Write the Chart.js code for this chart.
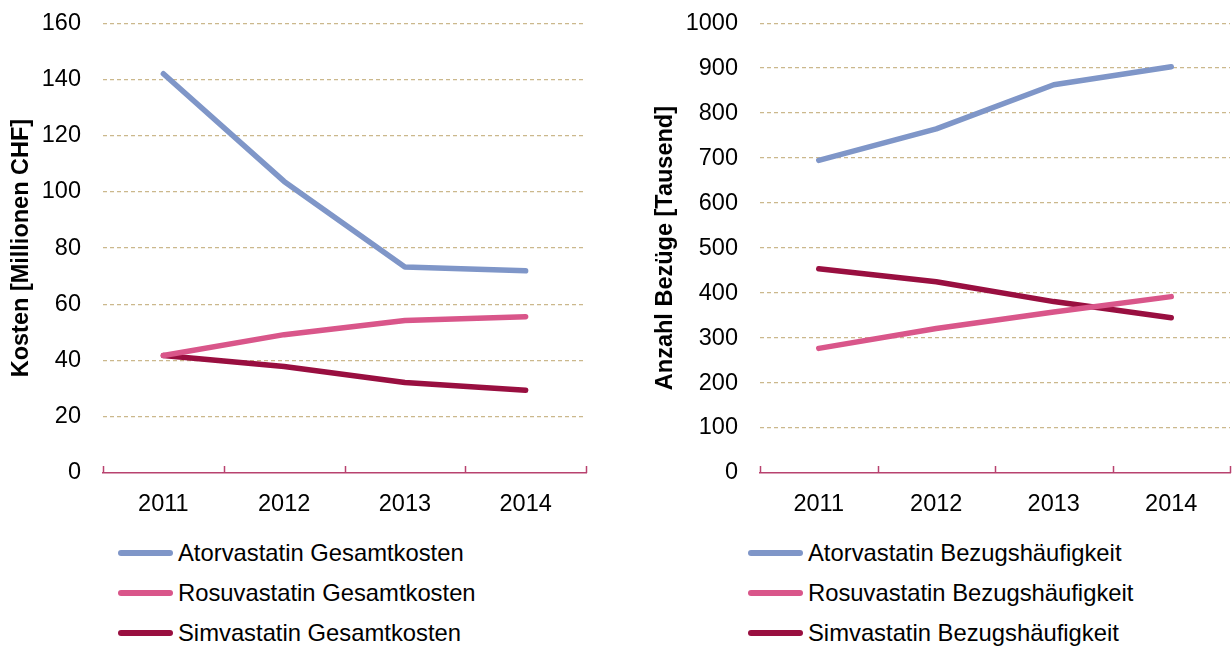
<!DOCTYPE html>
<html>
<head>
<meta charset="utf-8">
<script src="https://cdn.jsdelivr.net/npm/chart.js@4"></script>
<style>
  body { margin:0; background:#fff; font-family:'Liberation Sans', Arial, sans-serif; }
  #wrap { position:relative; width:1232px; height:652px; overflow:hidden; }
  .cv { position:absolute; top:-13px; }
  .legend { position:absolute; top:0; }
  .legend .it { position:absolute; white-space:nowrap; font-size:23.8px; color:#000; line-height:28px; }
  .legend .sw { position:absolute; height:6px; border-radius:3px; }
</style>
</head>
<body>
<div id="wrap">
  <div class="cv" style="left:0;width:600px;height:533px"><canvas id="ch-kosten"></canvas></div>
  <div class="cv" style="left:620px;width:612px;height:533px"><canvas id="ch-bezug"></canvas></div>
  <div class="legend" id="lg-kosten"></div>
  <div class="legend" id="lg-bezug"></div>
</div>
<script>
// Daten
const years = ['2011', '2012', '2013', '2014'];
const atorKosten  = [142, 103.7, 73.3, 71.9];
const rosuKosten  = [41.8, 49.2, 54.2, 55.6];
const simvaKosten = [41.8, 37.9, 32.2, 29.4];
const atorBezug  = [695, 765, 863, 903];
const rosuBezug  = [277, 321, 358, 392];
const simvaBezug = [454, 425, 381, 345];
const kostenLabels = ['Atorvastatin Gesamtkosten', 'Rosuvastatin Gesamtkosten', 'Simvastatin Gesamtkosten'];
const bezugLabels  = ['Atorvastatin Bezugshäufigkeit', 'Rosuvastatin Bezugshäufigkeit', 'Simvastatin Bezugshäufigkeit'];

const farben = ['#7f96c8', '#d9568a', '#990f40'];
const achse = '#b8426f';
const gitter = '#cbb88c';
const FONT = "'Liberation Sans', Arial, sans-serif";

// kleine Striche über der x-Achse an den Kategoriegrenzen
const tickMarks = {
  id: 'tickMarks',
  afterDraw(chart) {
    const x = chart.scales.x, ctx = chart.ctx;
    ctx.save();
    ctx.strokeStyle = achse;
    ctx.lineWidth = 1.5;
    for (let i = 0; i <= years.length; i++) {
      const px = Math.round(x.getPixelForValue(i - 0.5)) + 0.5;
      ctx.beginPath();
      ctx.moveTo(px, x.top);
      ctx.lineTo(px, x.top - 7);
      ctx.stroke();
    }
    ctx.restore();
  }
};

function makeChart(id, series, labels, max, step, title, yWidth, titlePad, padRight) {
  return new Chart(document.getElementById(id), {
    type: 'line',
    data: {
      labels: years,
      datasets: series.map((s, i) => ({
        label: labels[i], data: s,
        borderColor: farben[i], backgroundColor: farben[i],
        borderWidth: 5.5, pointRadius: 0, tension: 0,
        borderCapStyle: 'round', borderJoinStyle: 'round'
      }))
    },
    options: {
      responsive: true, maintainAspectRatio: false, animation: false,
      layout: { padding: { top: 8, right: padRight, bottom: 0, left: 0 } },
      plugins: { legend: { display: false }, tooltip: { enabled: false } },
      scales: {
        x: {
          offset: true,
          grid: { display: true, drawOnChartArea: false, drawTicks: false },
          border: { display: true, color: achse, width: 1.5 },
          ticks: { color: '#000', padding: 17, font: { family: FONT, size: 23.5 } },
          afterFit: s => { s.height = 47; }
        },
        y: {
          min: 0, max: max,
          ticks: { stepSize: step, color: '#000', padding: 22, font: { family: FONT, size: 23.5 },
                   callback: v => String(v) },
          grid: {
            drawTicks: false,
            color: c => c.tick.value === 0 ? 'rgba(0,0,0,0)' : gitter,
            lineWidth: 1.2
          },
          border: { display: false, dash: [4, 3] },
          title: { display: true, text: title, color: '#000', padding: { top: titlePad, bottom: 0 },
                   font: { family: FONT, size: 23.5, weight: 'bold' } },
          afterFit: s => { s.width = yWidth; }
        }
      }
    },
    plugins: [tickMarks]
  });
}

function legend(id, labels, lineLeft, textLeft) {
  const el = document.getElementById(id);
  let h = '';
  labels.forEach((l, i) => {
    const y = 553 + i * 40;
    h += `<div class="sw" style="left:${lineLeft}px;top:${y - 3}px;width:55px;background:${farben[i]}"></div>`;
    h += `<div class="it" style="left:${textLeft}px;top:${y - 14}px">${l}</div>`;
  });
  el.innerHTML = h;
}

makeChart('ch-kosten', [atorKosten, rosuKosten, simvaKosten], kostenLabels, 160, 20,
  'Kosten [Millionen CHF]', 103, 7, 14);
makeChart('ch-bezug', [atorBezug, rosuBezug, simvaBezug], bezugLabels, 1000, 100,
  'Anzahl Bezüge [Tausend]', 140, 31, 2);
legend('lg-kosten', kostenLabels, 118, 178);
legend('lg-bezug', bezugLabels, 748, 808);
</script>
</body>
</html>
